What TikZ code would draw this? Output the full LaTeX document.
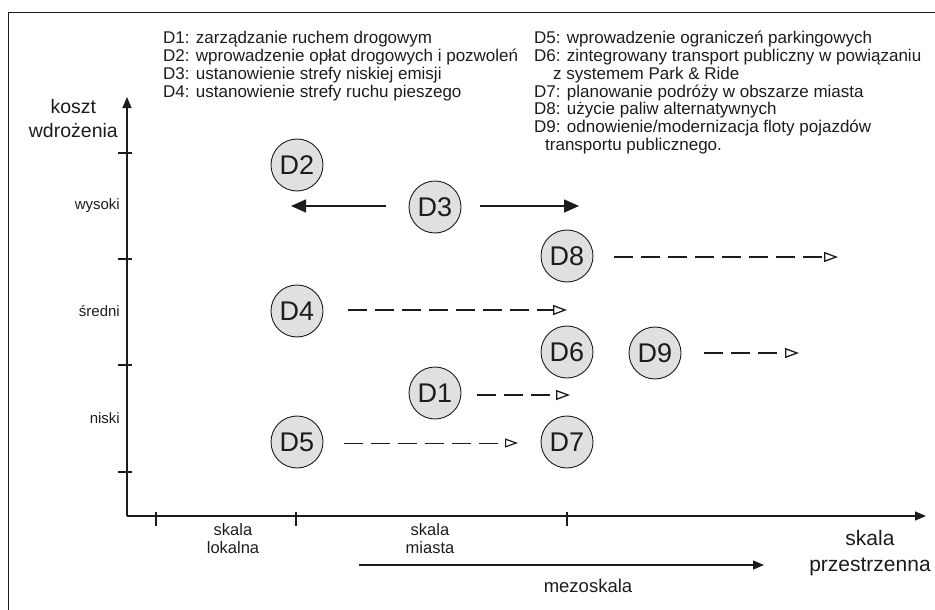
\documentclass[tikz,border=0pt]{standalone}
\usepackage{fontspec}
\setmainfont{Liberation Sans}
\usetikzlibrary{arrows.meta}
\definecolor{ink}{HTML}{1C1C1C}
\definecolor{cfill}{HTML}{E0E0E0}
\tikzset{
  ball/.style={circle, draw=ink, line width=0.9pt, fill=cfill, minimum size=52pt, inner sep=0pt, font=\fontsize{27}{27}\selectfont, text=ink},
  leg/.style={anchor=base west, inner sep=0pt, font=\fontsize{17}{17}\selectfont, text=ink},
  lab/.style={inner sep=0pt, align=center, text=ink},
  axis/.style={draw=ink, line width=1.2pt},
  solidarr/.style={draw=ink, line width=1.6pt, -{Triangle[length=15pt,width=13pt]}},
  dasharr/.style={draw=ink, line width=1.6pt, dash pattern=on 19pt off 8pt, -{Triangle[open,length=14pt,width=10pt,line width=1.3pt]}},
  thindash/.style={draw=ink, line width=1pt, dash pattern=on 19pt off 8pt, -{Triangle[open,length=13pt,width=9pt,line width=1.2pt]}},
}
\begin{document}
\begin{tikzpicture}[x=1pt,y=-1pt]
\useasboundingbox (0,0) rectangle (935,610);
% frame
\draw[ink, line width=1pt] (8,610) -- (8,13) -- (935,13);
% legend
\node[leg] (l1) at (163,44) {D1: zarządzanie ruchem drogowym};
\node[leg] (l2) at (163,61.7) {D2: wprowadzenie opłat drogowych i pozwoleń};
\node[leg] (l3) at (163,79.4) {D3: ustanowienie strefy niskiej emisji};
\node[leg] (l4) at (163,97) {D4: ustanowienie strefy ruchu pieszego};
\node[leg] (l5) at (534,44) {D5: wprowadzenie ograniczeń parkingowych};
\node[leg] (l6) at (534,61.7) {D6: zintegrowany transport publiczny w powiązaniu};
\node[leg] (l6b) at (553,79.4) {z systemem Park \& Ride};
\node[leg] (l7) at (534,97) {D7: planowanie podróży w obszarze miasta};
\node[leg] (l8) at (534,114.8) {D8: użycie paliw alternatywnych};
\node[leg] (l9) at (534,132.5) {D9: odnowienie/modernizacja floty pojazdów};
\node[leg] (l9b) at (545,150.2) {transportu publicznego.};
% axes
\coordinate (o) at (127,516);
\coordinate (ytip) at (127,97);
\coordinate (xtip) at (926,516);
\draw[axis, -{Triangle[length=11pt,width=9pt]}] (o) -- (ytip);
\draw[axis, -{Triangle[length=11pt,width=9pt]}] (o) -- (xtip);
\foreach \yy/\nm in {153/ya,259/yb,365/yc,472/yd}{
  \coordinate (\nm1) at (118,\yy); \coordinate (\nm2) at (132,\yy);
  \draw[axis] (\nm1) -- (\nm2);
}
\foreach \xx/\nm in {156/xa,296/xb,567/xc}{
  \coordinate (\nm1) at (\xx,512); \coordinate (\nm2) at (\xx,526);
  \draw[axis] (\nm1) -- (\nm2);
}
% axis labels
\node[lab, font=\fontsize{19.5}{24}\selectfont, anchor=east] (yl) at (118,119) {koszt\\wdrożenia};
\node[lab, font=\fontsize{15}{15}\selectfont, anchor=east] (hi) at (120,206) {wysoki};
\node[lab, font=\fontsize{15}{15}\selectfont, anchor=east] (mid) at (120,311) {średni};
\node[lab, font=\fontsize{15}{15}\selectfont, anchor=east] (lo) at (120,418) {niski};
\node[lab, font=\fontsize{16.5}{18}\selectfont] (sl) at (233,539) {skala\\lokalna};
\node[lab, font=\fontsize{16.5}{18}\selectfont] (sm) at (430,539) {skala\\miasta};
\node[lab, font=\fontsize{21}{26}\selectfont] (sp) at (870,553) {skala\\przestrzenna};
\node[lab, font=\fontsize{18.5}{18}\selectfont] (mz) at (588,586) {mezoskala};
\coordinate (mz1) at (359,565); \coordinate (mz2) at (764,565);
\draw[draw=ink, line width=1.2pt, -{Triangle[length=11pt,width=9pt]}] (mz1) -- (mz2);
% circles
\node[ball] (d2) at (297,165) {D2};
\node[ball] (d3) at (435,207) {D3};
\node[ball] (d8) at (567,256) {D8};
\node[ball] (d4) at (297,311) {D4};
\node[ball] (d6) at (567,352) {D6};
\node[ball] (d9) at (655,353) {D9};
\node[ball] (d1) at (435,393) {D1};
\node[ball] (d5) at (297,442) {D5};
\node[ball] (d7) at (567,442) {D7};
% arrows
\coordinate (d3l) at (386,206); \coordinate (d3lt) at (291,206);
\coordinate (d3r) at (480,206); \coordinate (d3rt) at (579,206);
\draw[solidarr] (d3l) -- (d3lt);
\draw[solidarr] (d3r) -- (d3rt);
\coordinate (d4s) at (348,310); \coordinate (d4e) at (567,310);
\draw[dasharr] (d4s) -- (d4e);
\coordinate (d8s) at (614,257); \coordinate (d8e) at (838,257);
\draw[dasharr] (d8s) -- (d8e);
\coordinate (d9s) at (704,353); \coordinate (d9e) at (799,353);
\draw[dasharr] (d9s) -- (d9e);
\coordinate (d1s) at (477,395); \coordinate (d1e) at (570,395);
\draw[dasharr] (d1s) -- (d1e);
\coordinate (d5s) at (344,443); \coordinate (d5e) at (518,443);
\draw[thindash] (d5s) -- (d5e);
\end{tikzpicture}
\end{document}
